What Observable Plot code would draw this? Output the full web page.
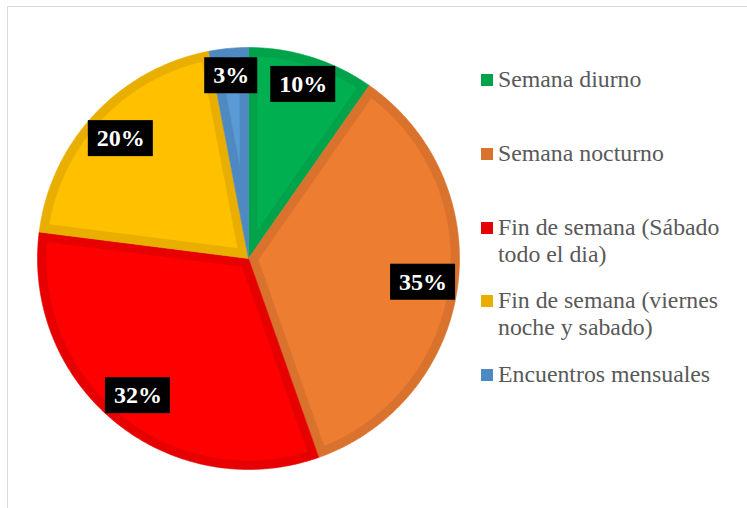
<!DOCTYPE html>
<html><head><meta charset="utf-8">
<script src="https://cdn.jsdelivr.net/npm/d3@7"></script>
<script src="https://cdn.jsdelivr.net/npm/@observablehq/plot@0.6"></script>
<style>
body{margin:0;background:#fff;}
#wrap{position:relative;width:747px;height:508px;overflow:hidden;background:#fff;}
#frame{position:absolute;left:7px;top:6px;width:800px;height:600px;border:1px solid #d9d9d9;box-sizing:border-box;}
#chart{position:absolute;left:0;top:0;}
#legend{position:absolute;left:481px;top:66px;font-size:23.8px;color:#595959;font-family:'Liberation Serif';}
.item{position:relative;height:73.75px;padding-left:17px;line-height:27px;width:250px;}
.sw{position:absolute;left:0;top:8px;width:12px;height:12px;}
</style></head>
<body>
<div id="wrap"><div id="frame"></div><div id="chart"></div><div id="legend"></div></div>
<script>
const categories = ["Semana diurno","Semana nocturno","Fin de semana (Sábado todo el dia)","Fin de semana (viernes noche y sabado)","Encuentros mensuales"];
const values = [9.7, 34.9, 32.4, 20.0, 3.0];
const labels = ["10%","35%","32%","20%","3%"];

const fillColors = ["#00B050","#ED7D31","#FF0000","#FFC000","#5B9BD5"];
const borderColors = ["#00A24A","#D9722D","#E60000","#E8AE00","#4F89C2"];

const R = 211;            // pixel radius
const band = 9 / R;       // inner border width in data units
const total = d3.sum(values);

let acc = 0;
const slices = values.map((v, i) => {
  const a0 = acc / total * 2 * Math.PI;
  acc += v;
  const a1 = acc / total * 2 * Math.PI;
  return {i, a0, a1};
});

function pt(r, a, key) { return {x: r * Math.sin(a), y: r * Math.cos(a), key}; }
function arcPts(r, a0, a1, key) {
  const n = Math.max(2, Math.ceil((a1 - a0) / (Math.PI / 360)));
  return d3.range(n + 1).map(k => pt(r, a0 + (a1 - a0) * k / n, key));
}
function outer(s) { return [pt(0, 0, s.i), ...arcPts(1, s.a0, s.a1, s.i), pt(0, 0, s.i)]; }
function inner(s) {
  const th = s.a1 - s.a0;
  const p = band / Math.sin(th / 2);
  const phi = Math.asin(band / (1 - band));
  const mid = (s.a0 + s.a1) / 2;
  return [pt(p, mid, s.i), ...arcPts(1 - band, s.a0 + phi, s.a1 - phi, s.i), pt(p, mid, s.i)];
}

const ctx = document.createElement("canvas").getContext("2d");
ctx.font = "bold 24px 'Liberation Serif'";
const labelData = slices.map(s => {
  const mid = (s.a0 + s.a1) / 2;
  const hw = (ctx.measureText(labels[s.i]).width / 2 + 8.5) / R;
  const hh = 18 / R;
  // best-fit: start near the rim and move inward until the box sits inside the pie
  let r = 0.87, c;
  for (; r > 0.5; r -= 0.005) {
    c = pt(r, mid, s.i);
    const far = Math.hypot(Math.abs(c.x) + hw, Math.abs(c.y) + hh);
    if (far <= 1.003) break;
  }
  return {x: c.x, y: c.y, x1: c.x - hw, x2: c.x + hw, y1: c.y - hh, y2: c.y + hh, text: labels[s.i]};
});

const marks = [];
slices.forEach(s => {
  marks.push(Plot.line(outer(s), {x: "x", y: "y", fill: borderColors[s.i], stroke: borderColors[s.i], strokeWidth: 0.6, curve: "linear"}));
});
slices.forEach(s => {
  marks.push(Plot.line(inner(s), {x: "x", y: "y", fill: fillColors[s.i], stroke: fillColors[s.i], strokeWidth: 0.3, curve: "linear"}));
});
marks.push(Plot.rect(labelData, {x1: "x1", x2: "x2", y1: "y1", y2: "y2", fill: "black"}));
marks.push(Plot.text(labelData, {x: "x", y: "y", text: "text", fill: "white", fontSize: 24, fontWeight: "bold", fontFamily: "Liberation Serif"}));

const chart = Plot.plot({
  width: 500, height: 508,
  marginLeft: 37, marginRight: 41, marginTop: 47, marginBottom: 39,
  x: {domain: [-1, 1], axis: null},
  y: {domain: [-1, 1], axis: null},
  style: {background: "transparent", fontFamily: "'Liberation Serif'"},
  marks
});
document.getElementById("chart").appendChild(chart);

const legend = document.getElementById("legend");
categories.forEach((c, i) => {
  const item = document.createElement("div");
  item.className = "item";
  const sw = document.createElement("div");
  sw.className = "sw";
  sw.style.background = borderColors[i];
  item.appendChild(sw);
  item.appendChild(document.createTextNode(c));
  legend.appendChild(item);
});
</script>
</body></html>
